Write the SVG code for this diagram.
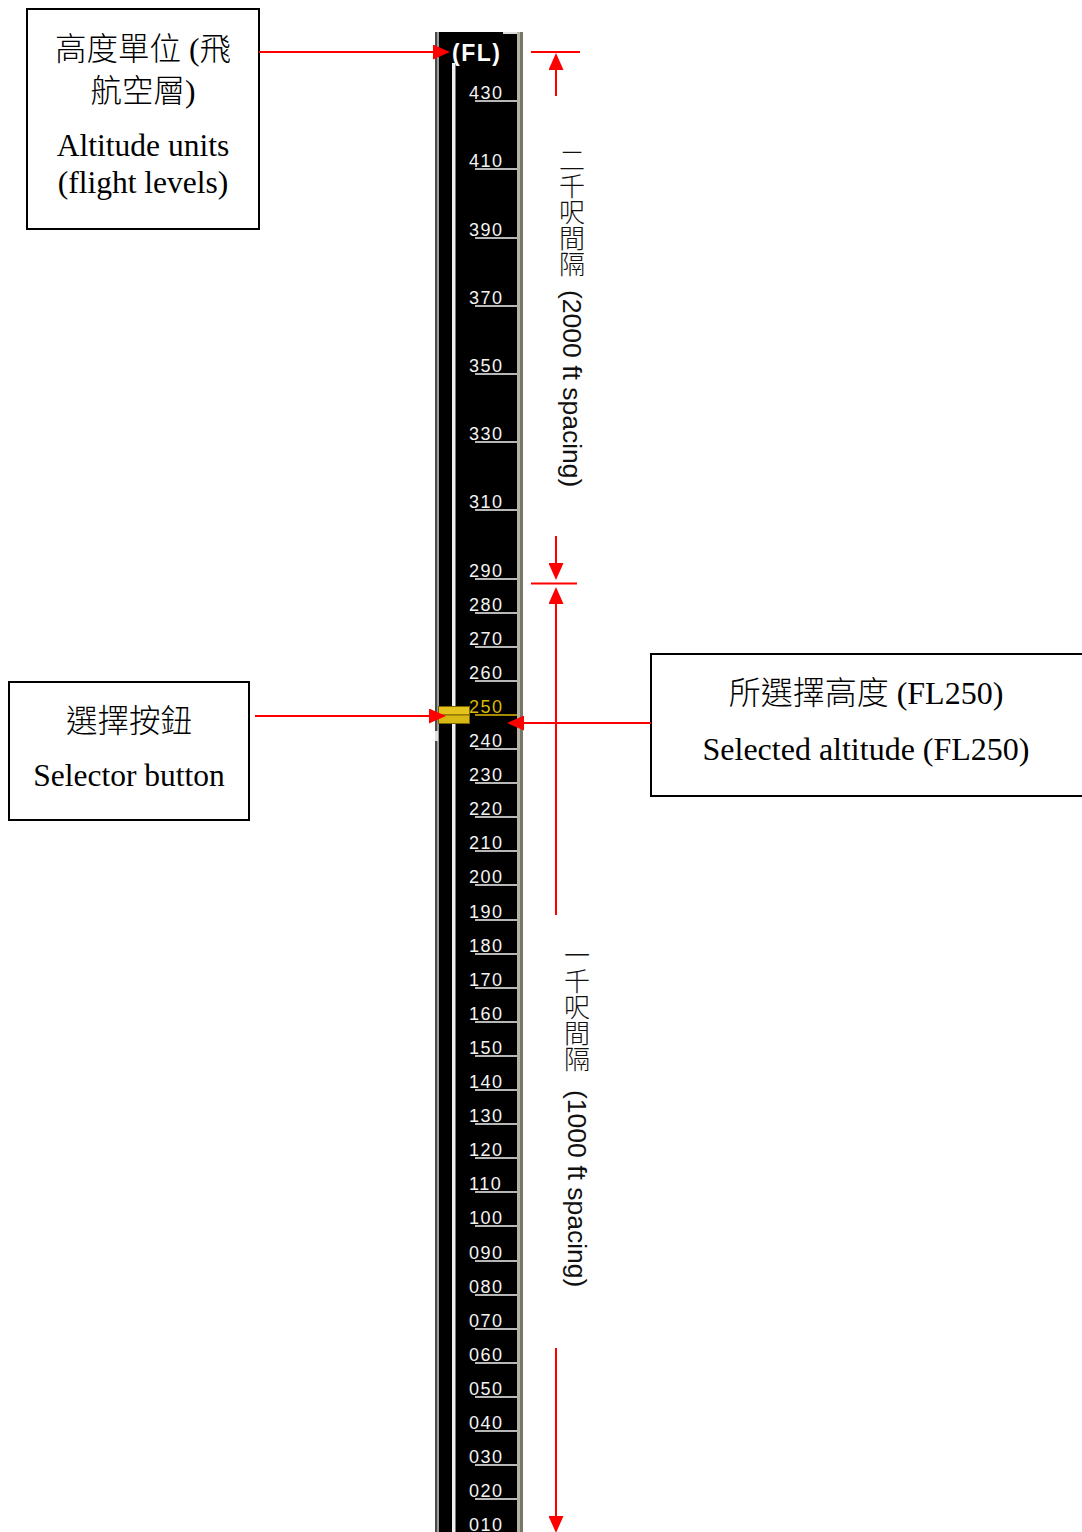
<svg xmlns="http://www.w3.org/2000/svg" width="1082" height="1532" viewBox="0 0 1082 1532">
<style>
.box{fill:#fff;stroke:#000;stroke-width:2}
.bt{font-family:"Liberation Serif","Noto Sans CJK TC",serif;font-size:31.5px;font-weight:300;fill:#000;text-anchor:middle}
.b3{font-size:32px}
.lbl{font-family:"Liberation Sans","DejaVu Sans",sans-serif;font-size:18px;fill:#f4f4f4;letter-spacing:1.5px}
.sel{fill:#dcb800}
.tick{stroke:#f4f4f4;stroke-width:1.3;fill:none}
.vc{font-family:"Noto Sans CJK TC",sans-serif;font-size:26px;font-weight:300;fill:#111;writing-mode:vertical-rl;text-orientation:upright}
.vl{font-family:"Liberation Sans",sans-serif;font-size:26.5px;fill:#111}
.red{stroke:#ff0000;stroke-width:2;fill:none}
.arr{marker-end:url(#ah)}
</style>
<defs>
<marker id="ah" viewBox="0 0 17 15" refX="13" refY="7.5" markerWidth="17" markerHeight="15" markerUnits="userSpaceOnUse" orient="auto">
<path d="M0,0 L17,7.5 L0,15 z" fill="#ff0000"/>
</marker>
</defs>
<rect width="1082" height="1532" fill="#fff"/>

<g id="scale">
<rect x="435" y="32" width="88" height="1500" fill="#000"/>
<rect x="435" y="32" width="2" height="1500" fill="#4a4a4a"/>
<rect x="437" y="32" width="2" height="1500" fill="#9a9a9a"/>
<rect x="517" y="32" width="3" height="1500" fill="#b4b3a4"/>
<rect x="520" y="32" width="3" height="1500" fill="#76766a"/>
<rect x="503" y="32" width="14" height="2" fill="#dcdcdc"/>
<rect x="435" y="731" width="3" height="10" fill="#e0e0e0"/>
<rect x="452" y="63" width="3.5" height="1469" fill="#f0f0f0"/>
<text x="452" y="61" font-family="Liberation Sans, DejaVu Sans, sans-serif" font-size="23" font-weight="bold" fill="#fff" letter-spacing="1.5">(FL)</text>
<g class="lbl">
<text x="469" y="99">430</text>
<text x="469" y="167">410</text>
<text x="469" y="236">390</text>
<text x="469" y="304">370</text>
<text x="469" y="372">350</text>
<text x="469" y="440">330</text>
<text x="469" y="508">310</text>
<text x="469" y="577">290</text>
<text x="469" y="611">280</text>
<text x="469" y="645">270</text>
<text x="469" y="679">260</text>
<text x="469" y="747">240</text>
<text x="469" y="781">230</text>
<text x="469" y="815">220</text>
<text x="469" y="849">210</text>
<text x="469" y="883">200</text>
<text x="469" y="918">190</text>
<text x="469" y="952">180</text>
<text x="469" y="986">170</text>
<text x="469" y="1020">160</text>
<text x="469" y="1054">150</text>
<text x="469" y="1088">140</text>
<text x="469" y="1122">130</text>
<text x="469" y="1156">120</text>
<text x="469" y="1190">110</text>
<text x="469" y="1224">100</text>
<text x="469" y="1259">090</text>
<text x="469" y="1293">080</text>
<text x="469" y="1327">070</text>
<text x="469" y="1361">060</text>
<text x="469" y="1395">050</text>
<text x="469" y="1429">040</text>
<text x="469" y="1463">030</text>
<text x="469" y="1497">020</text>
<text x="469" y="1531">010</text>
</g>
<path class="tick" d="M475,101H517M475,169H517M475,238H517M475,306H517M475,374H517M475,442H517M475,510H517M475,579H517M475,613H517M475,647H517M475,681H517M475,749H517M475,783H517M475,817H517M475,851H517M475,885H517M475,920H517M475,954H517M475,988H517M475,1022H517M475,1056H517M475,1090H517M475,1124H517M475,1158H517M475,1192H517M475,1226H517M475,1261H517M475,1295H517M475,1329H517M475,1363H517M475,1397H517M475,1431H517M475,1465H517M475,1499H517"/>
<text class="lbl sel" x="469" y="713">250</text>
<path d="M475,715H517" stroke="#dcb800" stroke-width="1.3"/>
</g>

<g id="selector-button-knob">
<rect x="438.5" y="706.5" width="31" height="8.5" fill="#e4c41c" stroke="#7a6400" stroke-width="1"/>
<rect x="438.5" y="715" width="31" height="8.5" fill="#d8b814" stroke="#7a6400" stroke-width="1"/>
</g>

<g id="box-altitude-units">
<rect class="box" x="27" y="9" width="232" height="220"/>
<text class="bt" x="143" y="60">高度單位 (飛</text>
<text class="bt" x="143" y="102">航空層)</text>
<text class="bt" x="143" y="156">Altitude units</text>
<text class="bt" x="143" y="193">(flight levels)</text>
</g>

<g id="box-selector-button">
<rect class="box" x="9" y="682" width="240" height="138"/>
<text class="bt" x="129" y="732">選擇按鈕</text>
<text class="bt" x="129" y="786">Selector button</text>
</g>

<g id="box-selected-altitude">
<rect class="box" x="651" y="654" width="440" height="142"/>
<text class="bt b3" x="866" y="704">所選擇高度 (FL250)</text>
<text class="bt b3" x="866" y="760">Selected altitude (FL250)</text>
</g>

<g id="label-2000ft">
<text class="vc" x="572" y="147">二千呎間隔</text>
<text class="vl" transform="translate(563,290) rotate(90)">(2000 ft spacing)</text>
</g>
<g id="label-1000ft">
<text class="vc" x="577" y="942">一千呎間隔</text>
<text class="vl" transform="translate(568,1090) rotate(90)">(1000 ft spacing)</text>
</g>

<g id="connectors">
<path class="red arr" d="M259,52H446"/>
<path class="red" d="M531,52H580"/>
<path class="red arr" d="M556,96V57"/>
<path class="red" d="M531,583.5H577"/>
<path class="red arr" d="M556,536V576"/>
<path class="red arr" d="M556,915V591"/>
<path class="red arr" d="M556,1348V1529"/>
<path class="red arr" d="M255,716H442"/>
<path class="red arr" d="M651,723H511"/>
</g>
</svg>
